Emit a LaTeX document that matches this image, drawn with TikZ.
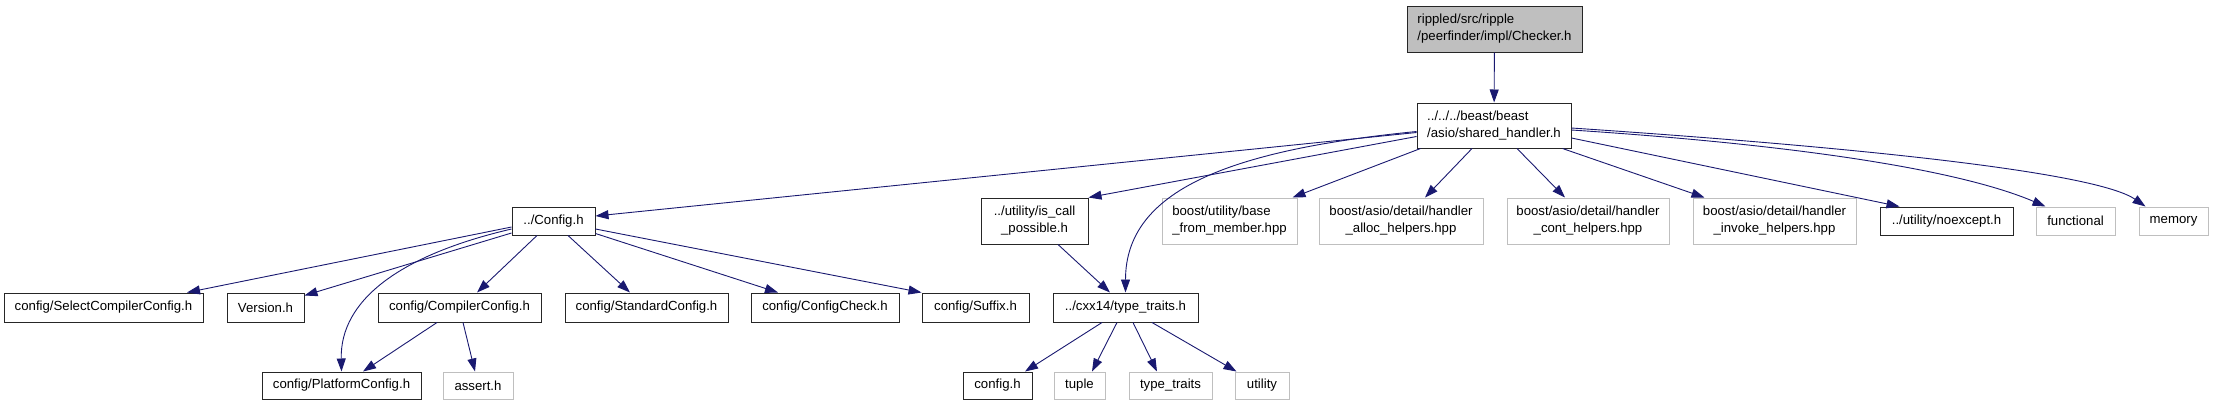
\documentclass[tikz,border=0pt]{standalone}
\usepackage{fontspec}
\setmainfont{Liberation Sans}
\usetikzlibrary{arrows.meta}
\definecolor{edgeblue}{HTML}{191970}
\definecolor{extgray}{HTML}{BFBFBF}

\begin{document}
\begin{tikzpicture}[x=1pt, y=-1pt, font=\fontsize{13.2}{17}\selectfont,
    file/.style={draw=black!85, line width=1pt, inner sep=0pt, minimum height=28pt},
    extfile/.style={draw=extgray, line width=1pt, inner sep=0pt, minimum height=28pt},
    dep/.style={draw=edgeblue, line width=0.9pt, -{Triangle[length=13pt, width=9pt]}}]
    \useasboundingbox (0,0) rectangle (2213,405);

    % top levels
    \node[file, fill=extgray, minimum width=175pt, minimum height=46pt, align=left] (checker) at (1494.5,29) {rippled/src/ripple\\/peerfinder/impl/Checker.h};
    \node[file, minimum width=154pt, minimum height=45pt, align=left] (shared) at (1494,125.5) {../../../beast/beast\\/asio/shared\_handler.h};

    % second row
    \node[file, minimum width=83pt] (config) at (553.5,221) {../Config.h};
    \node[file, minimum width=107pt, minimum height=46pt, align=center] (iscall) at (1034.5,221) {../utility/is\_call\\\_possible.h};
    \node[extfile, minimum width=135pt, minimum height=46pt, align=left] (basemem) at (1229.5,221) {boost/utility/base\\\_from\_member.hpp};
    \node[extfile, minimum width=164pt, minimum height=46pt, align=center] (alloc) at (1401,221) {boost/asio/detail/handler\\\_alloc\_helpers.hpp};
    \node[extfile, minimum width=162pt, minimum height=46pt, align=center] (cont) at (1588,221) {boost/asio/detail/handler\\\_cont\_helpers.hpp};
    \node[extfile, minimum width=163pt, minimum height=46pt, align=center] (invoke) at (1774.5,221) {boost/asio/detail/handler\\\_invoke\_helpers.hpp};
    \node[file, minimum width=133pt] (noexc) at (1946.5,221) {../utility/noexcept.h};
    \node[extfile, minimum width=79pt] (functional) at (2075.5,221) {functional};
    \node[extfile, minimum width=69pt] (memory) at (2173.5,221) {memory};

    % third row
    \node[file, minimum width=199pt, minimum height=29pt] (selcc) at (103.5,307.5) {config/SelectCompilerConfig.h};
    \node[file, minimum width=77pt, minimum height=29pt] (version) at (265.5,307.5) {Version.h};
    \node[file, minimum width=163pt, minimum height=29pt] (compcfg) at (459.5,307.5) {config/CompilerConfig.h};
    \node[file, minimum width=163pt, minimum height=29pt] (stdcfg) at (646.5,307.5) {config/StandardConfig.h};
    \node[file, minimum width=148pt, minimum height=29pt] (cfgcheck) at (825,307.5) {config/ConfigCheck.h};
    \node[file, minimum width=107pt, minimum height=29pt] (suffix) at (975.5,307.5) {config/Suffix.h};
    \node[file, minimum width=145pt, minimum height=29pt] (cxxtt) at (1125.5,307.5) {../cxx14/type\_traits.h};

    % bottom row
    \node[file, minimum width=159pt, minimum height=27pt] (platcfg) at (341.5,385.5) {config/PlatformConfig.h};
    \node[extfile, minimum width=70pt, minimum height=27pt] (assert) at (478,385.5) {assert.h};
    \node[file, minimum width=69pt, minimum height=27pt] (configh) at (997.5,385.5) {config.h};
    \node[extfile, minimum width=51pt, minimum height=27pt] (tuple) at (1079.5,385.5) {tuple};
    \node[extfile, minimum width=83pt, minimum height=27pt] (typetr) at (1170.5,385.5) {type\_traits};
    \node[extfile, minimum width=54pt, minimum height=27pt] (utility) at (1262,385.5) {utility};

    % includes of Checker.h
    \draw[dep] (checker) -- (shared);

    % includes of shared_handler.h
    \draw[dep] ([yshift=-7pt]shared.west) -- ([yshift=5pt]config.east);
    \draw[dep] ([yshift=-11pt]shared.west) -- (iscall.north east);
    \draw[dep] ([yshift=-6pt]shared.west) .. controls (1230,150) and (1125.5,190) .. (cxxtt.north);
    \draw[dep] ([xshift=4pt]shared.south west) -- ([xshift=-5pt]basemem.north east);
    \draw[dep] ([xshift=-22pt]shared.south) -- ([xshift=24pt]alloc.north);
    \draw[dep] ([xshift=23pt]shared.south) -- ([xshift=-23pt]cont.north);
    \draw[dep] ([xshift=-9pt]shared.south east) -- ([xshift=12pt]invoke.north west);
    \draw[dep] ([yshift=-12.5pt]shared.east) -- ([xshift=20pt]noexc.north west);
    \draw[dep] ([yshift=-4.5pt]shared.east) .. controls (1800,145) and (1960,170) .. ([xshift=10pt]functional.north west);
    \draw[dep] ([yshift=-2.5pt]shared.east) .. controls (1900,150) and (2100,175) .. ([xshift=7pt]memory.north west);

    % includes of Config.h
    \draw[dep] ([yshift=-6pt]config.west) -- ([xshift=83.5pt]selcc.north);
    \draw[dep] ([yshift=-12pt]config.west) -- ([yshift=-3pt]version.north east);
    \draw[dep] ([yshift=-8pt]config.west) .. controls (400,255) and (340,300) .. (platcfg.north);
    \draw[dep] ([xshift=-16.5pt]config.south) -- ([xshift=17.5pt]compcfg.north);
    \draw[dep] ([xshift=14.5pt]config.south) -- ([xshift=-16.5pt]stdcfg.north);
    \draw[dep] ([yshift=2pt]config.south east) -- ([xshift=-47pt]cfgcheck.north);
    \draw[dep] ([yshift=-8pt]config.east) -- (suffix.north west);

    % includes of CompilerConfig.h
    \draw[dep] ([xshift=-22.5pt]compcfg.south) -- ([xshift=21.5pt]platcfg.north);
    \draw[dep] ([xshift=3.5pt]compcfg.south) -- ([xshift=-3pt]assert.north);

    % includes of is_call_possible.h and type_traits.h
    \draw[dep] ([xshift=23.5pt]iscall.south) -- ([xshift=-15.5pt]cxxtt.north);
    \draw[dep] ([xshift=-23.5pt]cxxtt.south) -- ([xshift=27.5pt]configh.north);
    \draw[dep] ([xshift=-8.5pt]cxxtt.south) -- ([xshift=12.5pt]tuple.north);
    \draw[dep] ([xshift=7.5pt]cxxtt.south) -- ([xshift=-13.5pt]typetr.north);
    \draw[dep] ([xshift=26.5pt]cxxtt.south) -- ([xshift=2pt]utility.north west);
\end{tikzpicture}
\end{document}
